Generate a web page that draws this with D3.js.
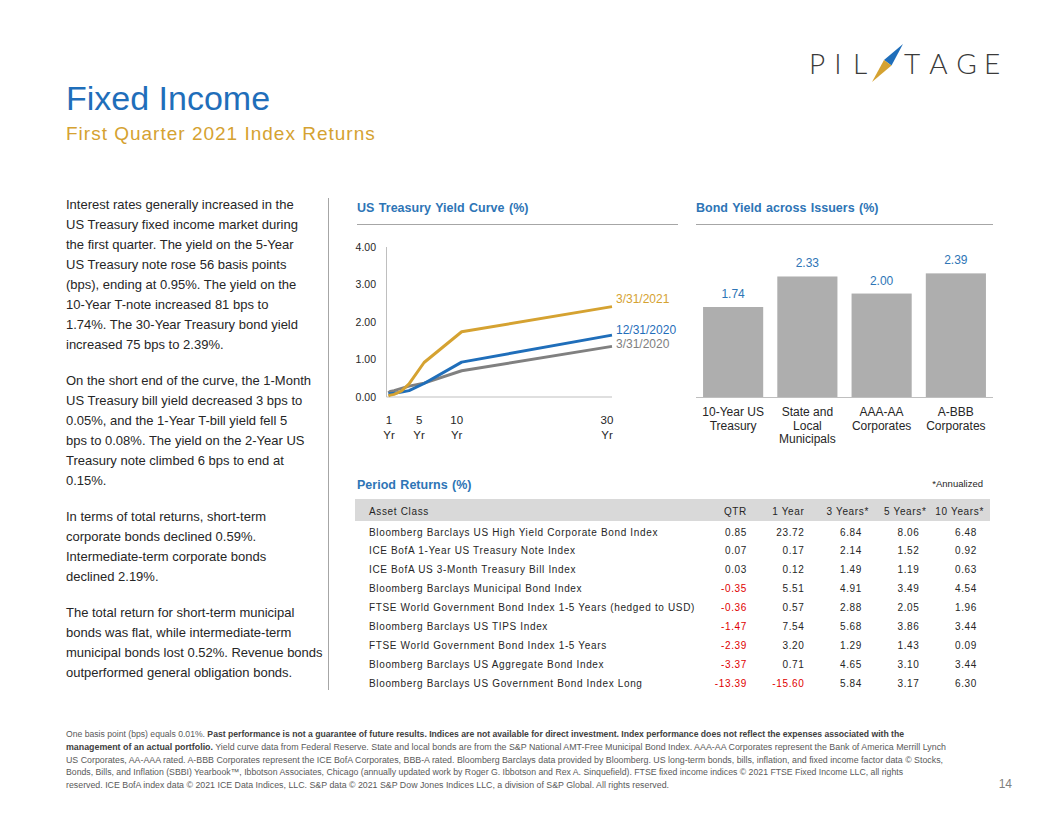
<!DOCTYPE html>
<html>
<head>
<meta charset="utf-8">
<script src="https://cdn.jsdelivr.net/npm/d3@7"></script>
<style>
    body { margin: 0; background: #fff; }
    svg { display: block; font-family: "Liberation Sans", Arial, sans-serif; }
</style>
</head>
<body>
<svg id="svg"></svg>
<script>
//data - yield curve (maturity in years)
let maturities = [0.25, 0.5, 1, 2, 3, 5, 10, 30]
let curveNames = ['3/31/2020', '12/31/2020', '3/31/2021']
let yieldsMar2020 = [0.11, 0.15, 0.17, 0.23, 0.29, 0.37, 0.70, 1.35]
let yieldsDec2020 = [0.09, 0.09, 0.10, 0.13, 0.17, 0.36, 0.93, 1.65]
let yieldsMar2021 = [0.03, 0.05, 0.07, 0.16, 0.35, 0.92, 1.74, 2.41]
let curveTicks = [1, 5, 10, 30]
let yieldTicks = [0, 1, 2, 3, 4]

//data - bond yield across issuers
let issuers = ['10-Year US\nTreasury', 'State and\nLocal\nMunicipals', 'AAA-AA\nCorporates', 'A-BBB\nCorporates']
let issuerYields = [1.74, 2.33, 2.00, 2.39]

//data - period returns table
let returnHeaders = ['QTR', '1 Year', '3 Years*', '5 Years*', '10 Years*']
let assetClasses = [
    'Bloomberg Barclays US High Yield Corporate Bond Index',
    'ICE BofA 1-Year US Treasury Note Index',
    'ICE BofA US 3-Month Treasury Bill Index',
    'Bloomberg Barclays Municipal Bond Index',
    'FTSE World Government Bond Index 1-5 Years (hedged to USD)',
    'Bloomberg Barclays US TIPS Index',
    'FTSE World Government Bond Index 1-5 Years',
    'Bloomberg Barclays US Aggregate Bond Index',
    'Bloomberg Barclays US Government Bond Index Long'
]
let qtr = [0.85, 0.07, 0.03, -0.35, -0.36, -1.47, -2.39, -3.37, -13.39]
let oneYear = [23.72, 0.17, 0.12, 5.51, 0.57, 7.54, 3.20, 0.71, -15.60]
let threeYears = [6.84, 2.14, 1.49, 4.91, 2.88, 5.68, 1.29, 4.65, 5.84]
let fiveYears = [8.06, 1.52, 1.19, 3.49, 2.05, 3.86, 1.43, 3.10, 3.17]
let tenYears = [6.48, 0.92, 0.63, 4.54, 1.96, 3.44, 0.09, 3.44, 6.30]

//commentary text
let paragraphs = [
    ['Interest rates generally increased in the', 'US Treasury fixed income market during', 'the first quarter. The yield on the 5-Year',
     'US Treasury note rose 56 basis points', '(bps), ending at 0.95%. The yield on the', '10-Year T-note increased 81 bps to',
     '1.74%. The 30-Year Treasury bond yield', 'increased 75 bps to 2.39%.'],
    ['On the short end of the curve, the 1-Month', 'US Treasury bill yield decreased 3 bps to', '0.05%, and the 1-Year T-bill yield fell 5',
     'bps to 0.08%. The yield on the 2-Year US', 'Treasury note climbed 6 bps to end at', '0.15%.'],
    ['In terms of total returns, short-term', 'corporate bonds declined 0.59%.', 'Intermediate-term corporate bonds', 'declined 2.19%.'],
    ['The total return for short-term municipal', 'bonds was flat, while intermediate-term', 'municipal bonds lost 0.52%. Revenue bonds',
     'outperformed general obligation bonds.']
]

let footer = [
    [['One basis point (bps) equals 0.01%. ', false], ['Past performance is not a guarantee of future results. Indices are not available for direct investment. Index performance does not reflect the expenses associated with the', true]],
    [['management of an actual portfolio.', true], [' Yield curve data from Federal Reserve. State and local bonds are from the S&P National AMT-Free Municipal Bond Index. AAA-AA Corporates represent the Bank of America Merrill Lynch', false]],
    [['US Corporates, AA-AAA rated. A-BBB Corporates represent the ICE BofA Corporates, BBB-A rated. Bloomberg Barclays data provided by Bloomberg.  US long-term bonds, bills, inflation, and fixed income factor data \u00a9 Stocks,', false]],
    [['Bonds, Bills, and Inflation (SBBI) Yearbook\u2122, Ibbotson Associates, Chicago (annually updated work by Roger G. Ibbotson and Rex A. Sinquefield). FTSE fixed income indices \u00a9 2021 FTSE Fixed Income LLC, all rights', false]],
    [['reserved. ICE BofA index data \u00a9 2021 ICE Data Indices, LLC. S&P data \u00a9 2021 S&P Dow Jones Indices LLC, a division of S&P Global. All rights reserved.', false]]
]
let footerWidths = [838, 880, 877, 837, 603]

/*---------------------------------------------------------------------*/
let svg = d3.select('#svg').attr('width', 1056).attr('height', 816)
let blue = '#1f6eba'
let gold = '#d5a231'
let secBlue = '#2e75b6'
let ink = '#262626'
let rule = '#a6a6a6'

//title & subtitle
svg.append('text').attr('x', 66).attr('y', 110).attr('font-size', 34).attr('fill', blue).text('Fixed Income')
svg.append('text').attr('x', 66).attr('y', 140).attr('font-size', 19).attr('letter-spacing', 1)
    .attr('fill', gold).text('First Quarter 2021 Index Returns')

//logo
let logo = svg.append('g').attr('font-family', 'Lato, "Noto Sans", sans-serif').attr('font-weight', 300)
    .attr('font-size', 28).attr('fill', '#3a3a3a').attr('text-anchor', 'middle')
let logoLetters = [['P', 817], ['I', 838], ['L', 860], ['T', 912], ['A', 938.5], ['G', 966.5], ['E', 992]]
logoLetters.forEach(l => logo.append('text').attr('x', l[1]).attr('y', 73.5).text(l[0]))
logo.append('path').attr('d', 'M903,44 L891.5,65.5 L884,60 Z').attr('fill', '#1f6eba')
logo.append('path').attr('d', 'M872,82 L884,60 L891.5,65.5 Z').attr('fill', gold)

//commentary column
let txt = svg.append('g').attr('font-size', 13).attr('fill', ink)
let lineY = 209
paragraphs.forEach(p => {
    p.forEach(line => {
        txt.append('text').attr('x', 66).attr('y', lineY).attr('xml:space', 'preserve').text(line)
        lineY += 20
    })
    lineY += 16
})
svg.append('line').attr('x1', 328.5).attr('x2', 328.5).attr('y1', 198).attr('y2', 690)
    .attr('stroke', rule).attr('stroke-width', 1)

//section headings
let heading = (x, y, x2, label) => {
    svg.append('text').attr('x', x).attr('y', y).attr('font-size', 12.5).attr('font-weight', 'bold')
        .attr('fill', secBlue).attr('word-spacing', 1).text(label)
    if (x2) {
        svg.append('line').attr('x1', x).attr('x2', x2).attr('y1', 224.5).attr('y2', 224.5)
            .attr('stroke', rule).attr('stroke-width', 1)
    }
}
heading(357, 212, 678, 'US Treasury Yield Curve (%)')
heading(696, 212, 993, 'Bond Yield across  Issuers  (%)')
heading(357, 489, null, 'Period Returns (%)')

/*---------------------------------------------------------------------*/
//yield curve chart
let x = d3.scaleLinear().domain([0, 30]).range([386.5, 612])
let y = d3.scaleLinear().domain([0, 4]).range([397, 247])

let curve = svg.append('g')
curve.append('line').attr('x1', x(0)).attr('x2', x(0)).attr('y1', y(0)).attr('y2', y(4)).attr('stroke', '#bfbfbf')
curve.append('line').attr('x1', x(0)).attr('x2', x(30)).attr('y1', y(0)).attr('y2', y(0)).attr('stroke', '#bfbfbf')

curve.append('g').attr('font-size', 10.5).attr('fill', ink).attr('text-anchor', 'end')
    .selectAll('text').data(yieldTicks).join('text')
    .attr('x', 376).attr('y', d => y(d) + 3.8).text(d => d3.format('.2f')(d))

let xLabels = curve.append('g').attr('font-size', 11.5).attr('fill', ink).attr('text-anchor', 'middle')
    .selectAll('text').data(curveTicks).join('text')
    .attr('x', d => x(d) - 5).attr('y', 424)
xLabels.append('tspan').text(d => d)
xLabels.append('tspan').attr('x', d => x(d) - 5).attr('dy', 15).text('Yr')

let series = [
    { name: curveNames[0], values: yieldsMar2020, color: '#808080', nudge: -2.5 },
    { name: curveNames[1], values: yieldsDec2020, color: '#1f6eba', nudge: -5 },
    { name: curveNames[2], values: yieldsMar2021, color: '#d5a231', nudge: -7.5 }
]
let line = d3.line().x(d => x(d[0])).y(d => y(d[1]))
series.forEach(s => {
    let pts = maturities.map((m, i) => [m, s.values[i]])
    curve.append('path').datum(pts).attr('d', line).attr('fill', 'none')
        .attr('stroke', s.color).attr('stroke-width', 3).attr('stroke-linejoin', 'round')
    curve.append('text').attr('x', x(30) + 4).attr('y', y(s.values[s.values.length - 1]) + s.nudge + 4.3)
        .attr('font-size', 12).attr('fill', s.color).text(s.name)
})

/*---------------------------------------------------------------------*/
//bond yield bars
let xb = d3.scaleBand().domain(issuers).range([696, 993]).paddingInner(0.19).paddingOuter(0.095)
let yb = d3.scaleLinear().domain([0, 2.9]).range([397, 247])

let bars = svg.append('g')
bars.selectAll('rect').data(issuers).join('rect')
    .attr('x', d => xb(d)).attr('width', xb.bandwidth())
    .attr('y', (d, i) => yb(issuerYields[i])).attr('height', (d, i) => yb(0) - yb(issuerYields[i]))
    .attr('fill', '#aeaeae')
bars.append('line').attr('x1', 696).attr('x2', 993).attr('y1', yb(0) + 0.5).attr('y2', yb(0) + 0.5).attr('stroke', '#bfbfbf')
bars.append('g').attr('font-size', 12).attr('fill', secBlue).attr('text-anchor', 'middle')
    .selectAll('text').data(issuers).join('text')
    .attr('x', d => xb(d) + xb.bandwidth() / 2).attr('y', (d, i) => yb(issuerYields[i]) - 9)
    .text((d, i) => issuerYields[i].toFixed(2))
let catLabels = bars.append('g').attr('font-size', 12).attr('fill', ink).attr('text-anchor', 'middle')
    .selectAll('text').data(issuers).join('text')
    .attr('y', 416)
catLabels.selectAll('tspan').data(d => d.split('\n').map(t => [d, t])).join('tspan')
    .attr('x', d => xb(d[0]) + xb.bandwidth() / 2).attr('dy', (d, i) => i ? 13.5 : 0).text(d => d[1])

/*---------------------------------------------------------------------*/
//period returns table
svg.append('text').attr('x', 983).attr('y', 486.5).attr('font-size', 9.5).attr('fill', ink)
    .attr('text-anchor', 'end').text('*Annualized')

let table = svg.append('g').attr('font-size', 10).attr('letter-spacing', 0.65)
let colX = d3.scaleLinear().domain([0, 4]).range([747, 977])
let rowY = d3.scaleLinear().domain([0, assetClasses.length - 1]).range([532, 683])
let columns = [qtr, oneYear, threeYears, fiveYears, tenYears]

table.append('rect').attr('x', 355).attr('y', 499).attr('width', 635).attr('height', 22).attr('fill', '#d9d9d9')
table.append('text').attr('x', 369).attr('y', 515).attr('fill', ink).text('Asset Class')
table.append('g').attr('text-anchor', 'end').attr('fill', ink)
    .selectAll('text').data(returnHeaders).join('text')
    .attr('x', (d, i) => colX(i) + (d.includes('*') ? 7 : 0)).attr('y', 515).text(d => d)

table.append('g').attr('fill', ink).selectAll('text').data(assetClasses).join('text')
    .attr('x', 369).attr('y', (d, i) => rowY(i) + 3.6).text(d => d)

columns.forEach((col, c) => {
    table.append('g').attr('text-anchor', 'end').selectAll('text').data(col).join('text')
        .attr('x', colX(c)).attr('y', (d, i) => rowY(i) + 3.6)
        .attr('fill', d => d < 0 ? '#e00000' : ink)
        .text(d => d.toFixed(2))
})

/*---------------------------------------------------------------------*/
//footnote
let foot = svg.append('g').attr('font-size', 8.5).attr('fill', '#595959')
footer.forEach((parts, i) => {
    let t = foot.append('text').attr('x', 66).attr('y', 737 + i * 12.8)
        .attr('textLength', footerWidths[i]).attr('lengthAdjust', 'spacingAndGlyphs')
    parts.forEach(p => {
        t.append('tspan').attr('font-weight', p[1] ? 'bold' : 'normal')
            .attr('fill', p[1] ? '#404040' : '#595959').text(p[0])
    })
})
svg.append('text').attr('x', 1012).attr('y', 788).attr('font-size', 12).attr('fill', '#7f7f7f')
    .attr('text-anchor', 'end').text('14')
</script>
</body>
</html>
